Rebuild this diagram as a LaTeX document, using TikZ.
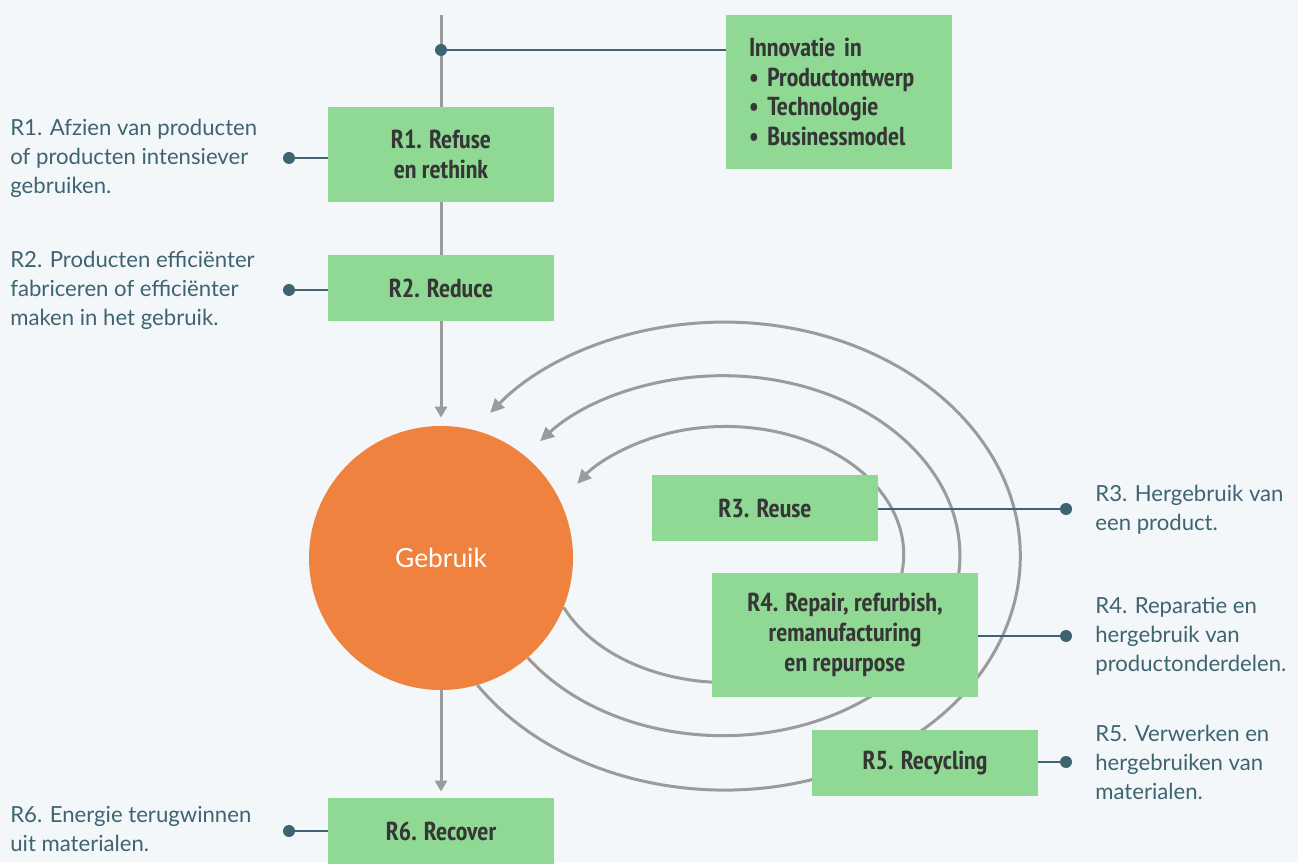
\documentclass[tikz,border=0pt]{standalone}
\usepackage{fontspec}
\setmainfont{Lato}
\newfontfamily\boxfont{PT Sans Narrow}
\usetikzlibrary{arrows.meta}
\definecolor{bg}{HTML}{F3F7FA}
\definecolor{boxgreen}{HTML}{8FD994}
\definecolor{usecolor}{HTML}{EF823F}
\definecolor{flowgray}{HTML}{9B9B9D}
\definecolor{tealdark}{HTML}{3D6470}
\definecolor{boxtext}{HTML}{363636}

\begin{document}
\begin{tikzpicture}[x=0.2mm, y=0.2mm,
    rbox/.style={fill=boxgreen, text=boxtext, minimum width=45.2mm,
      minimum height=13.2mm, align=center, inner sep=0pt,
      font=\boxfont\bfseries\fontsize{14.8}{17}\selectfont},
    desc/.style={text=tealdark, align=left, inner sep=0pt, anchor=west,
      font=\fontsize{12.6}{16.5}\selectfont},
    dotmark/.style={circle, fill=tealdark, minimum size=2.4mm, inner sep=0pt},
    flow/.style={draw=flowgray, line width=0.6mm},
    flow arrow/.style={flow, -{Triangle[length=2.2mm,width=2.4mm]}},
    cycle arrow/.style={flow, -{Triangle[length=2.8mm,width=2.6mm]}},
    link/.style={draw=tealdark, line width=0.4mm}]
  \fill[bg] (0,0) rectangle (1298,862);
  % main column
  \node[rbox, minimum height=19mm] (r1) at (441,707.5) {R1. Refuse\\en rethink};
  \node[rbox] (r2) at (441,574) {R2. Reduce};
  \node[circle, fill=usecolor, minimum size=52.8mm, inner sep=0pt, text=white,
    font=\fontsize{15}{17}\selectfont] (use) at (441,304) {Gebruik};
  \node[rbox] (r6) at (441,31) {R6. Recover};
  \coordinate (top) at (441,847);
  \draw[flow] (top) -- (r1.north);
  \draw[flow] (r1.south) -- (r2.north);
  \draw[flow arrow, shorten >=1.6mm] (r2) -- (use);
  \draw[flow arrow, shorten >=1.2mm] (use) -- (r6);
  % innovation
  \node[rbox, minimum height=30.8mm, text width=36mm, align=left] (innov) at (839,770)
    {Innovatie in\\\textbullet~Productontwerp\\\textbullet~Technologie\\\textbullet~Businessmodel};
  \node[dotmark] (djoin) at (441,812) {};
  \draw[link] (djoin) -- (djoin -| innov.west);
  % loops back to use
  \draw[cycle arrow] (use.-22) arc[start angle=204.5, end angle=506.5, x radius=178, y radius=128];
  \draw[cycle arrow] (use.-49) arc[start angle=214.6, end angle=500.5, x radius=237, y radius=180];
  \draw[cycle arrow] (use.-74.6) arc[start angle=213.5, end angle=502.3, x radius=296, y radius=234];
  \node[rbox] (r3) at (765,354) {R3. Reuse};
  \node[rbox, minimum width=53.2mm, minimum height=24.8mm] (r4) at (845,227)
    {R4. Repair, refurbish,\\remanufacturing\\en repurpose};
  \node[rbox] (r5) at (925,99) {R5. Recycling};
  % left descriptions
  \node[desc] (t1) at (10,704) {R1. Afzien van producten\\of producten intensiever\\gebruiken.};
  \node[desc] (t2) at (10,572) {R2. Producten efficiënter\\fabriceren of efficiënter\\maken in het gebruik.};
  \node[desc] (t6) at (10,32.5) {R6. Energie terugwinnen\\uit materialen.};
  \node[dotmark] (d1) at (289,704) {};
  \node[dotmark] (d2) at (289,572) {};
  \node[dotmark] (d6) at (289,31) {};
  \draw[link] (d1) -- (d1 -| r1.west);
  \draw[link] (d2) -- (d2 -| r2.west);
  \draw[link] (d6) -- (d6 -| r6.west);
  % right descriptions
  \node[desc] (t3) at (1095,352.5) {R3. Hergebruik van\\een product.};
  \node[desc] (t4) at (1095,226) {R4. Reparatie en\\hergebruik van\\productonderdelen.};
  \node[desc] (t5) at (1095,99.5) {R5. Verwerken en\\hergebruiken van\\materialen.};
  \node[dotmark] (d3) at (1066,353) {};
  \node[dotmark] (d4) at (1066,226) {};
  \node[dotmark] (d5) at (1066,100) {};
  \draw[link] (d3 -| r3.east) -- (d3);
  \draw[link] (d4 -| r4.east) -- (d4);
  \draw[link] (d5 -| r5.east) -- (d5);
\end{tikzpicture}
\end{document}
